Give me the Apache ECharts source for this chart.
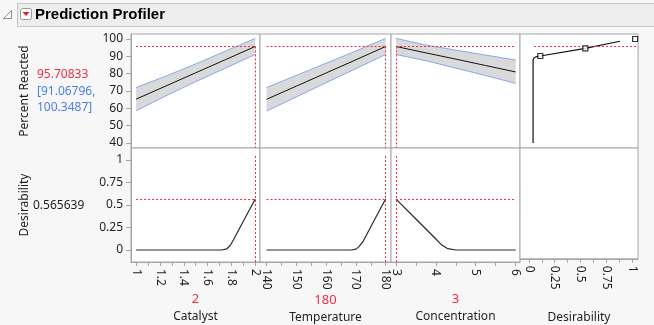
<!DOCTYPE html>
<html>
<head>
<meta charset="utf-8">
<script src="https://cdn.jsdelivr.net/npm/echarts@6/dist/echarts.min.js"></script>
<style>
  html, body { margin: 0; padding: 0; background: #f7f7f7; }
  #chart { width: 654px; height: 325px; }
</style>
</head>
<body>
<div id="chart"></div>
<script>
// ---- Profiler settings ----
const factorNames = ['Catalyst', 'Temperature', 'Concentration'];
const currentSettings = [2, 180, 3];
const responseName = 'Percent Reacted';
const predictedValue = 95.70833;
const ciLow = 91.06796;
const ciHigh = 100.3487;
const desirabilityValue = 0.565639;

// ---- Percent Reacted traces (x, prediction, lower CI, upper CI) ----
const catalystX = [1, 1.25, 1.5, 1.75, 2];
const catalystPred = [65.3, 72.9, 80.5, 88.1, 95.71];
const catalystLow = [58.6, 67.2, 75.4, 83.2, 91.07];
const catalystHigh = [72.0, 78.6, 85.6, 93.0, 100.35];

const temperatureX = [140, 150, 160, 170, 180];
const temperaturePred = [65.2, 72.8, 80.4, 88.0, 95.71];
const temperatureLow = [58.4, 66.6, 74.8, 82.9, 91.07];
const temperatureHigh = [72.0, 79.0, 86.0, 93.1, 100.35];

const concentrationX = [3, 3.75, 4.5, 5.25, 6];
const concentrationPred = [95.71, 92.0, 88.4, 84.7, 81.0];
const concentrationLow = [91.07, 87.5, 83.2, 78.9, 74.4];
const concentrationHigh = [100.35, 96.5, 93.6, 90.7, 87.9];

// ---- Desirability traces ----
const catalystDX = [1, 1.72, 1.76, 1.79, 1.82, 1.9, 2];
const catalystD = [0, 0, 0.012, 0.05, 0.12, 0.32, 0.566];
const temperatureDX = [140, 168.5, 170, 171, 172.5, 176, 180];
const temperatureD = [0, 0, 0.01, 0.035, 0.1, 0.32, 0.566];
const concentrationDX = [3, 3.5, 4, 4.15, 4.3, 4.5, 6];
const concentrationD = [0.566, 0.344, 0.122, 0.055, 0.015, 0, 0];

// Desirability function for Percent Reacted (desirability, response)
const desFuncD = [0.04, 0.04, 0.05, 0.07, 0.11, 0.547, 0.883];
const desFuncY = [40, 88, 89.2, 89.8, 90.2, 94.6, 98.7];
const handleD = [0.11, 0.547, 1.03];
const handleY = [90.2, 94.6, 100];

// ---- Tick values ----
const catalystTicks = [1, 1.2, 1.4, 1.6, 1.8, 2];
const catalystMinor = [1, 1.1, 1.2, 1.3, 1.4, 1.5, 1.6, 1.7, 1.8, 1.9, 2];
const temperatureTicks = [140, 150, 160, 170, 180];
const temperatureMinor = [140, 145, 150, 155, 160, 165, 170, 175, 180];
const concentrationTicks = [3, 4, 5, 6];
const concentrationMinor = [3, 3.5, 4, 4.5, 5, 5.5, 6];
const desTicks = [0, 0.25, 0.5, 0.75, 1];
const desMinor = [0, 0.125, 0.25, 0.375, 0.5, 0.625, 0.75, 0.875, 1];
const percentTicks = [40, 50, 60, 70, 80, 90, 100];
const desYTicks = [0, 0.25, 0.5, 0.75, 1];

// ---- Axis ranges ----
const xRanges = [[0.957, 2.04], [137.8, 181.8], [2.875, 6.11], [-0.087, 1.058]];
const yTopRange = [37.1, 102.9];
const yBottomRange = [-0.133, 1.133];

// ---- Layout ----
const cols = [[131, 129], [260, 131], [391, 129], [520, 118]];
const rows = [[34, 114], [148, 114]];
const FONT = 'Noto Sans';
const RED = '#ec2f45';
const BLUE = '#4b7fe3';
const BORDER = '#a6a6a6';
const TXT = '#1e1e1e';

const chart = echarts.init(document.getElementById('chart'), null, { renderer: 'canvas' });

const grids = [];
rows.forEach(r => cols.forEach(c => grids.push({
  left: c[0], top: r[0], width: c[1], height: r[1],
  show: true, backgroundColor: '#fff', borderColor: BORDER, borderWidth: 1,
  containLabel: false
})));

const xTicks = [catalystTicks, temperatureTicks, concentrationTicks, desTicks];
const xMinor = [catalystMinor, temperatureMinor, concentrationMinor, desMinor];
const xNames = [factorNames[0], factorNames[1], factorNames[2], 'Desirability'];
const xCurrent = [String(currentSettings[0]), String(currentSettings[1]), String(currentSettings[2]), ' '];

const xAxes = [];
for (let r = 0; r < 2; r++) {
  for (let c = 0; c < 4; c++) {
    const bottom = r === 1;
    xAxes.push({
      type: 'value', gridIndex: r * 4 + c,
      min: xRanges[c][0], max: xRanges[c][1],
      splitLine: { show: false },
      axisLine: { show: bottom, onZero: false, lineStyle: { color: BORDER } },
      axisTick: { show: bottom, customValues: xMinor[c], length: 4, lineStyle: { color: BORDER } },
      axisLabel: {
        show: bottom, customValues: xTicks[c], rotate: -90, margin: 7,
        color: TXT, fontFamily: FONT, fontSize: 12
      },
      name: bottom ? '{v|' + xCurrent[c] + '}\n{n|' + xNames[c] + '}' : '',
      nameLocation: 'middle', nameGap: 28,
      nameTextStyle: {
        rich: {
          v: { color: RED, fontFamily: FONT, fontSize: 13, lineHeight: 18, align: 'center' },
          n: { color: TXT, fontFamily: FONT, fontSize: 12, lineHeight: 18, align: 'center' }
        }
      }
    });
  }
}

const yAxes = [];
for (let r = 0; r < 2; r++) {
  for (let c = 0; c < 4; c++) {
    const first = c === 0;
    const rng = r === 0 ? yTopRange : yBottomRange;
    const ticks = r === 0 ? percentTicks : desYTicks;
    yAxes.push({
      type: 'value', gridIndex: r * 4 + c,
      min: rng[0], max: rng[1],
      splitLine: { show: false },
      axisLine: { show: first, lineStyle: { color: BORDER } },
      axisTick: { show: first, customValues: ticks, length: 5, lineStyle: { color: BORDER } },
      axisLabel: {
        show: first, customValues: ticks, margin: 8,
        color: TXT, fontFamily: FONT, fontSize: 12
      }
    });
  }
}

const dotted = { color: RED, width: 1, type: [2, 2] };

function band(xs, lo, hi, idx) {
  return {
    type: 'custom', xAxisIndex: idx, yAxisIndex: idx, silent: true, z: 1,
    data: [0],
    renderItem: function (params, api) {
      const pts = [];
      xs.forEach((x, i) => pts.push(api.coord([x, hi[i]])));
      for (let i = xs.length - 1; i >= 0; i--) pts.push(api.coord([xs[i], lo[i]]));
      return { type: 'polygon', shape: { points: pts }, style: { fill: '#d9d9d9' } };
    }
  };
}

function pairs(xs, ys) { return xs.map((x, i) => [x, ys[i]]); }

function line(xs, ys, idx, color, extra) {
  return Object.assign({
    type: 'line', xAxisIndex: idx, yAxisIndex: idx, data: pairs(xs, ys),
    showSymbol: false, symbol: 'none', silent: true, z: 3,
    lineStyle: { color: color, width: 1 }
  }, extra || {});
}

function crossHair(xMin, xMax, yVal, xCur, yTop, yMinVal) {
  return {
    silent: true, symbol: 'none', label: { show: false }, lineStyle: dotted,
    emphasis: { disabled: true },
    data: [
      [{ coord: [xMin, yVal] }, { coord: [xMax, yVal] }],
      [{ coord: [xCur, yTop] }, { coord: [xCur, yMinVal] }]
    ]
  };
}

const topSets = [
  [catalystX, catalystPred, catalystLow, catalystHigh],
  [temperatureX, temperaturePred, temperatureLow, temperatureHigh],
  [concentrationX, concentrationPred, concentrationLow, concentrationHigh]
];
const bottomSets = [
  [catalystDX, catalystD],
  [temperatureDX, temperatureD],
  [concentrationDX, concentrationD]
];

const series = [];
topSets.forEach((s, c) => {
  const [xs, pred, lo, hi] = s;
  const xMin = xs[0], xMax = xs[xs.length - 1];
  series.push(line([currentSettings[c], currentSettings[c]], [predictedValue, yTopRange[0]], c, 'rgba(0,0,0,0)', {
    z: 0, lineStyle: { width: 0, opacity: 0 },
    markLine: crossHair(xMin, xMax, predictedValue, currentSettings[c], predictedValue, yTopRange[0])
  }));
  series.push(band(xs, lo, hi, c));
  series.push(line(xs, lo, c, '#8aa6ef'));
  series.push(line(xs, hi, c, '#8aa6ef'));
  series.push(line(xs, pred, c, '#111'));
});
bottomSets.forEach((s, c) => {
  const [xs, d] = s;
  const idx = 4 + c;
  series.push(line(xs, d, idx, '#2a2a2a', {
    lineStyle: { color: '#2a2a2a', width: 1.2 },
    markLine: crossHair(xs[0], xs[xs.length - 1], desirabilityValue, currentSettings[c], 1.044, yBottomRange[0])
  }));
});
// Desirability function panel
series.push(line(desFuncD, desFuncY, 3, '#111', {
  lineStyle: { color: '#111', width: 1.2 },
  markLine: {
    silent: true, symbol: 'none', label: { show: false }, lineStyle: dotted,
    data: [[{ coord: [0.05, predictedValue] }, { coord: [1.04, predictedValue] }]]
  }
}));
series.push({
  type: 'scatter', xAxisIndex: 3, yAxisIndex: 3, data: pairs(handleD, handleY),
  symbol: 'rect', symbolSize: 5, silent: true, z: 5,
  itemStyle: { color: '#fff', borderColor: '#000', borderWidth: 1.2 }
});

const graphic = [
  { type: 'rect', shape: { x: 17.5, y: 3.5, width: 640, height: 23 },
    style: { fill: '#ededed', stroke: '#c6c6c6', lineWidth: 1 } },
  { type: 'polygon', shape: { points: [[3.5, 18.5], [11.5, 10.5], [11.5, 18.5]] },
    style: { fill: '#fafafa', stroke: '#8c8c8c', lineWidth: 1 } },
  { type: 'rect', shape: { x: 20.5, y: 8.5, width: 11, height: 11, r: 2 },
    style: { fill: '#fff', stroke: '#9a9a9a', lineWidth: 1 } },
  { type: 'polygon', shape: { points: [[22.5, 12], [29.5, 12], [26, 16]] },
    style: { fill: '#e0202c' } },
  { type: 'text', x: 35, y: 15,
    style: { text: 'Prediction Profiler', fill: '#000', font: 'bold 15px "Liberation Sans"', verticalAlign: 'middle' } },
  { type: 'text', x: 25, y: 91, rotation: Math.PI / 2,
    style: { text: responseName, fill: TXT, font: '12px "' + FONT + '"', align: 'center', verticalAlign: 'middle' } },
  { type: 'text', x: 37, y: 75,
    style: { text: predictedValue.toFixed(5), fill: RED, font: '12px "' + FONT + '"', verticalAlign: 'middle' } },
  { type: 'text', x: 37, y: 92,
    style: { text: '[' + ciLow.toFixed(5) + ',', fill: BLUE, font: '12px "' + FONT + '"', verticalAlign: 'middle' } },
  { type: 'text', x: 37, y: 107.5,
    style: { text: ciHigh.toFixed(4) + ']', fill: BLUE, font: '12px "' + FONT + '"', verticalAlign: 'middle' } },
  { type: 'text', x: 25, y: 205, rotation: Math.PI / 2,
    style: { text: 'Desirability', fill: TXT, font: '12px "' + FONT + '"', align: 'center', verticalAlign: 'middle' } },
  { type: 'text', x: 33, y: 205.5,
    style: { text: desirabilityValue.toFixed(6), fill: TXT, font: '12px "' + FONT + '"', verticalAlign: 'middle' } }
];

chart.setOption({
  animation: false,
  backgroundColor: '#f7f7f7',
  grid: grids,
  xAxis: xAxes,
  yAxis: yAxes,
  series: series,
  graphic: graphic
});
</script>
</body>
</html>
